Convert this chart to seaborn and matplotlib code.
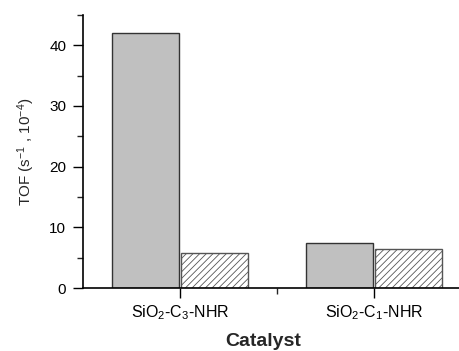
import matplotlib
matplotlib.use("Agg")
import matplotlib.pyplot as plt
import seaborn as sns
import pandas as pd
from matplotlib.ticker import MultipleLocator, FixedLocator

categories = ["SiO$_2$-C$_3$-NHR", "SiO$_2$-C$_1$-NHR"]
series_a = [42.0, 7.4]
series_b = [5.8, 6.5]
series_names = ["A", "B"]

sns.set_theme(style="ticks")
plt.rcParams['font.family'] = ['Liberation Sans', 'DejaVu Sans']
plt.rcParams['hatch.linewidth'] = 0.6
plt.rcParams['mathtext.fontset'] = 'custom'
plt.rcParams['mathtext.rm'] = 'Liberation Sans'
plt.rcParams['mathtext.it'] = 'Liberation Sans'

df = pd.DataFrame({
    "Catalyst": categories * 2,
    "TOF": series_a + series_b,
    "Series": [series_names[0]] * 2 + [series_names[1]] * 2,
})

fig = plt.figure(figsize=(4.59, 3.51), dpi=100)
ax = fig.add_axes([83/459, 63/351, 1 - 83/459, (288-15)/351])
sns.barplot(data=df, x="Catalyst", y="TOF", hue="Series", ax=ax,
            palette=["#c0c0c0", "white"], width=0.715, gap=0.03,
            edgecolor="#333333", linewidth=1.0, legend=False)
for p in ax.patches[2:4]:
    p.set_hatch("/////")
    p.set_edgecolor("#555555")

ax.set_ylim(0, 45)
ax.set_xlim(-0.5, 1.438)
ax.yaxis.set_major_locator(MultipleLocator(10))
ax.yaxis.set_minor_locator(MultipleLocator(5))
ax.xaxis.set_minor_locator(FixedLocator([0.5]))
ax.tick_params(axis='both', which='major', direction='out', length=7, width=1.0, colors='black')
ax.tick_params(axis='y', which='major', labelsize=11, pad=5)
ax.tick_params(axis='x', which='major', labelsize=11.5, pad=4)
ax.tick_params(axis='both', which='minor', direction='out', length=4, width=1.0)
for s in ['top', 'right']:
    ax.spines[s].set_visible(False)
for s in ['left', 'bottom']:
    ax.spines[s].set_linewidth(1.2)
    ax.spines[s].set_color('black')
ax.set_ylabel("TOF (s$^{-1}$ , 10$^{-4}$)", fontsize=11, labelpad=9)
ax.set_xlabel("")
fig.text(263/459, 1.0/351, "Catalyst", fontsize=14, fontweight='bold',
         ha='center', va='bottom')
fig.savefig("out.png", dpi=100)
